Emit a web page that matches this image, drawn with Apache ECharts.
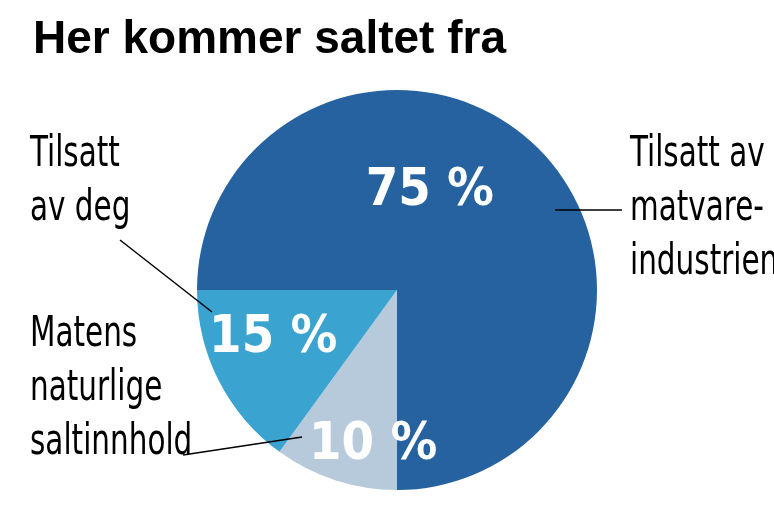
<!DOCTYPE html>
<html>
<head>
<meta charset="utf-8">
<script src="https://cdn.jsdelivr.net/npm/echarts@6/dist/echarts.min.js"></script>
<style>html,body{margin:0;background:#fff}#chart{width:774px;height:511px}</style>
</head>
<body>
<div id="chart"></div>
<script>
// slices in clockwise order starting at 6 o'clock
const names = ['Matens naturlige saltinnhold', 'Tilsatt av deg', 'Tilsatt av matvareindustrien'];
const values = [10, 15, 75];
const colors = ['#b7cadb', '#3aa3cf', '#25629f'];
const labelOffsets = [[8, 58], [-32, 2], [-40, -26]];

const narrow = '"DejaVu Sans Condensed", sans-serif';

function sideText(x, y, txt) {
  return { type: 'text', x: x, y: y, scaleX: 0.78, style: { text: txt, fontSize: 42, lineHeight: 54, fontFamily: narrow, fill: '#000' } };
}

const chart = echarts.init(document.getElementById('chart'));
chart.setOption({
  animation: false,
  title: {
    text: 'Her kommer saltet fra', left: 28, top: 12,
    textStyle: { fontSize: 46, fontWeight: 900, color: '#000', fontFamily: '"Liberation Sans", Arial, sans-serif' }
  },
  series: [{
    type: 'pie',
    center: [397, 290],
    radius: [0, 200],
    startAngle: 270,
    clockwise: true,
    data: names.map((n, i) => ({
      name: n, value: values[i],
      itemStyle: { color: colors[i] },
      label: { offset: labelOffsets[i] }
    })),
    label: {
      show: true, position: 'inside', formatter: '{c} %',
      color: '#fff', fontSize: 52, fontWeight: 'bold', fontFamily: narrow
    },
    labelLine: { show: false },
    emphasis: { disabled: true }
  }],
  graphic: [
    sideText(30, 128, 'Tilsatt\nav deg'),
    sideText(30, 308, 'Matens\nnaturlige\nsaltinnhold'),
    sideText(630, 128, 'Tilsatt av\nmatvare-\nindustrien'),
    { type: 'line', z: 10, shape: { x1: 120, y1: 240, x2: 212, y2: 312 }, style: { stroke: '#000', lineWidth: 1.5 } },
    { type: 'line', z: 10, shape: { x1: 183, y1: 455, x2: 302, y2: 437 }, style: { stroke: '#000', lineWidth: 1.5 } },
    { type: 'line', z: 10, shape: { x1: 555, y1: 210, x2: 622, y2: 210 }, style: { stroke: '#000', lineWidth: 1.5 } }
  ]
});
</script>
</body>
</html>
